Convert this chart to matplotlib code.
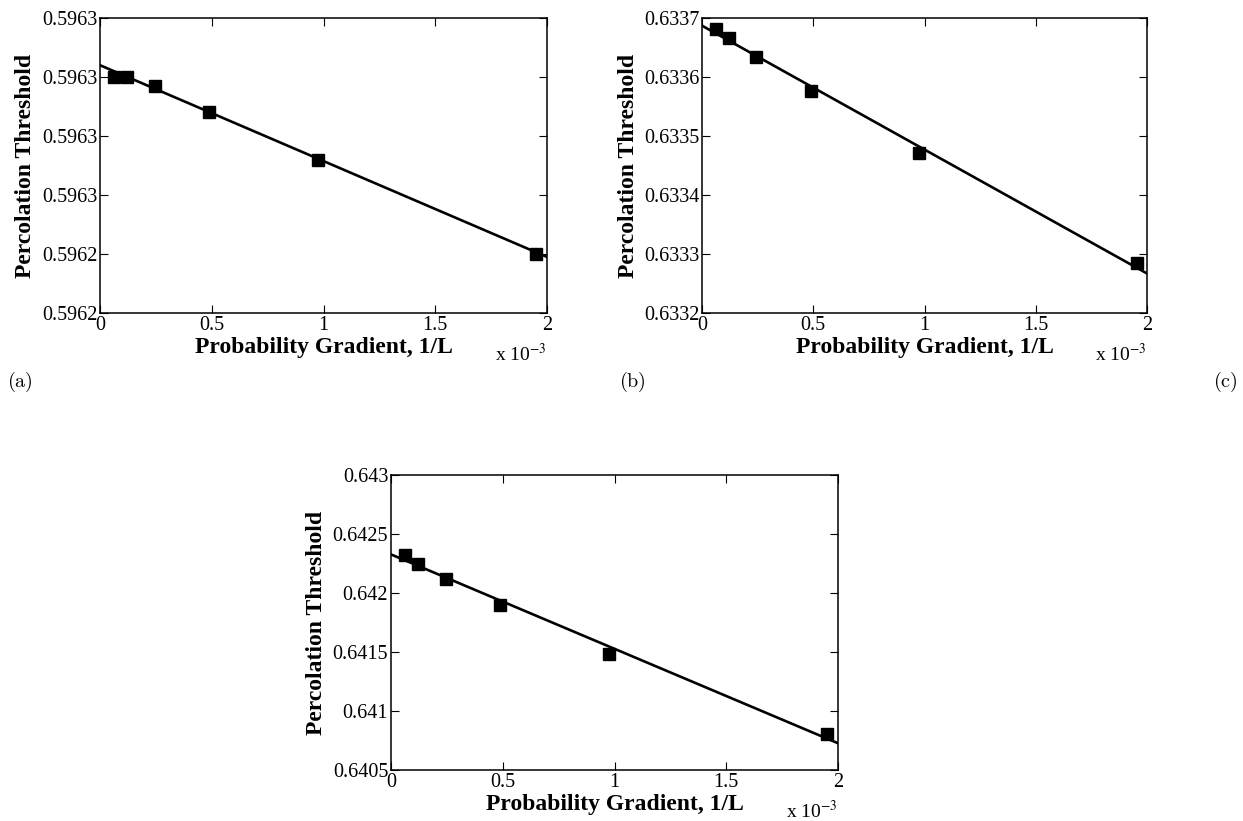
import matplotlib
matplotlib.use("Agg")
import matplotlib.pyplot as plt

plt.rcParams['font.family'] = ['Liberation Serif', 'DejaVu Serif']
plt.rcParams['mathtext.fontset'] = 'stix'

# ---- data (x in units of 1e-3) ----
grad = [0.061, 0.122, 0.244, 0.488, 0.977, 1.953]

thr_a = [0.596300, 0.596300, 0.596297, 0.596288, 0.596272, 0.596240]
fit_a_x = [0.0, 2.0]
fit_a_y = [0.596304, 0.596239]
yticks_a = [0.59622, 0.59624, 0.59626, 0.59628, 0.59630, 0.59632]
ylabels_a = ['0.5962', '0.5962', '0.5963', '0.5963', '0.5963', '0.5963']

thr_b = [0.633682, 0.633666, 0.633634, 0.633577, 0.633472, 0.633284]
fit_b_x = [0.0, 2.0]
fit_b_y = [0.633687, 0.633267]
yticks_b = [0.6332, 0.6333, 0.6334, 0.6335, 0.6336, 0.6337]
ylabels_b = ['0.6332', '0.6333', '0.6334', '0.6335', '0.6336', '0.6337']

thr_c = [0.642318, 0.642247, 0.642122, 0.641895, 0.641483, 0.640801]
fit_c_x = [0.0, 2.0]
fit_c_y = [0.642327, 0.640727]
yticks_c = [0.6405, 0.641, 0.6415, 0.642, 0.6425, 0.643]
ylabels_c = ['0.6405', '0.641', '0.6415', '0.642', '0.6425', '0.643']

xticks = [0, 0.5, 1, 1.5, 2]
xticklabels = ['0', '0.5', '1', '1.5', '2']

xlabel = 'Probability Gradient, 1/L'
ylabel = 'Percolation Threshold'
panel_labels = ['(a)', '(b)', '(c)']

W, H = 1243, 821
fig = plt.figure(figsize=(W / 100, H / 100), dpi=100)


def make_axes(left, top, w, h):
    return fig.add_axes([left / W, 1 - (top + h) / H, w / W, h / H])


def draw(ax, y, fx, fy, yt, yl):
    ax.plot(fx, fy, color='black', linewidth=1.9, zorder=2)
    ax.plot(grad, y, linestyle='none', marker='s', markersize=8.5,
            color='black', zorder=3)
    ax.set_xlim(0, 2)
    ax.set_ylim(yt[0], yt[-1])
    ax.set_xticks(xticks)
    ax.set_xticklabels(xticklabels)
    ax.set_yticks(yt)
    ax.set_yticklabels(yl)
    ax.tick_params(direction='in', top=True, right=True, length=5.5,
                   width=0.8, labelsize=14.5, pad=2)
    ax.tick_params(axis='x', pad=2)
    for s in ax.spines.values():
        s.set_linewidth(1.1)
    ax.set_xlabel(xlabel, fontsize=17, fontweight='bold')
    ax.xaxis.set_label_coords(0.5, -34 / 295)
    ax.xaxis.label.set_va('center')
    ax.set_ylabel(ylabel, fontsize=17, fontweight='bold')
    ax.yaxis.set_label_coords(-74 / 447, 0.5)
    ax.yaxis.label.set_va('center')
    ax.text(1.0, -48 / 295, r'x 10$^{-3}$', transform=ax.transAxes,
            ha='right', va='baseline', fontsize=14)


ax_a = make_axes(100, 18, 447, 295)
draw(ax_a, thr_a, fit_a_x, fit_a_y, yticks_a, ylabels_a)
ax_b = make_axes(702, 18, 445, 295)
draw(ax_b, thr_b, fit_b_x, fit_b_y, yticks_b, ylabels_b)
ax_c = make_axes(391, 475, 447, 295)
draw(ax_c, thr_c, fit_c_x, fit_c_y, yticks_c, ylabels_c)

for lab, xp in zip(panel_labels, [20, 632, 1225]):
    fig.text(xp / W, 1 - 382 / H, r'$\mathrm{' + lab + '}$', ha='center',
             va='center', fontsize=14.5, math_fontfamily='cm')

fig.savefig('out.png', dpi=100)
